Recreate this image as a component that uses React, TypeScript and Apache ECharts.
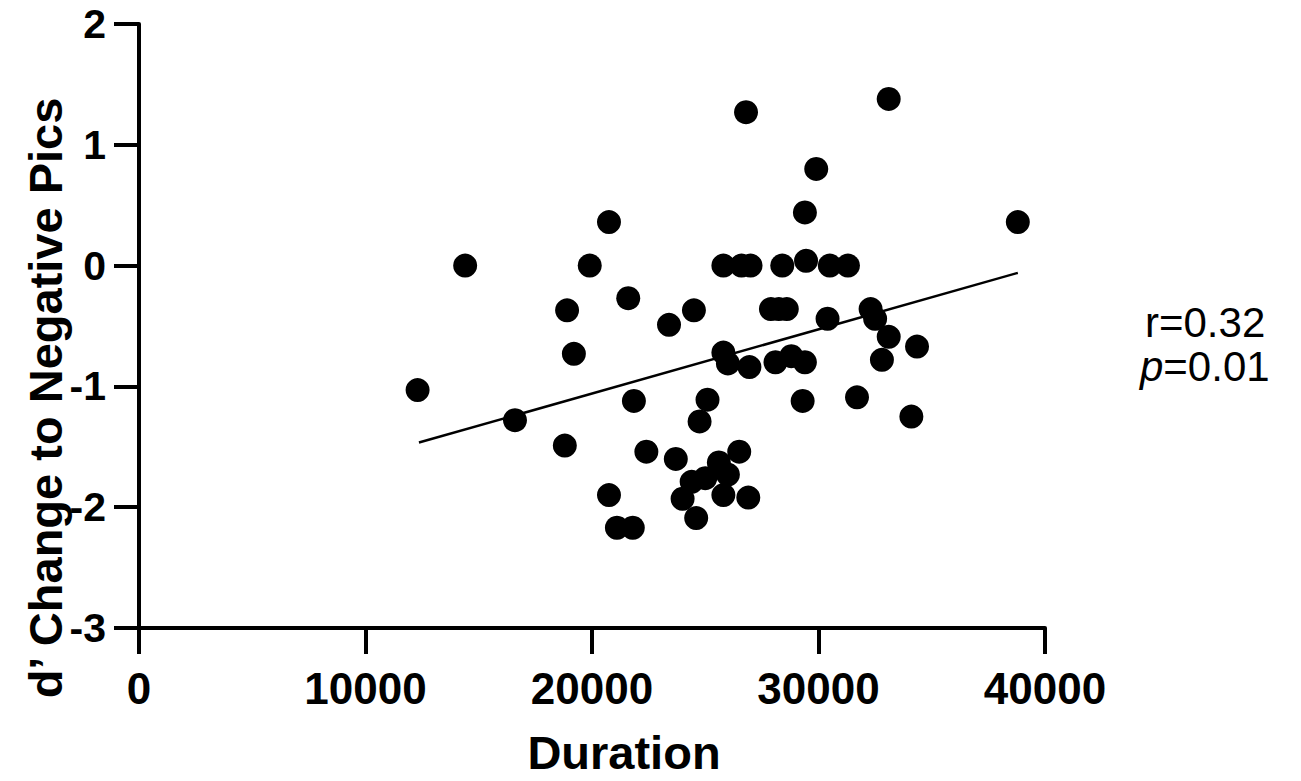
import React, { useEffect, useRef } from "react";
import * as echarts from "echarts";

const durations = [
  12300, 14400, 16600, 18800, 18900, 19200, 19900, 20750, 20750, 21100,
  21800, 21600, 21850, 22400, 23400, 23700, 24000, 24400, 24500, 24600,
  24750, 25000, 25100, 25600, 25800, 26000, 26500, 26900, 25800, 25800,
  26000, 26600, 27000, 26800, 26950, 27900, 28250, 28600, 28100, 28400,
  28800, 29400, 29300, 29400, 29450, 29900, 30400, 30500, 31300, 31700,
  32300, 32500, 32800, 33100, 33100, 34100, 34350, 38800,
];
const dprimeChange = [
  -1.03, 0, -1.28, -1.49, -0.37, -0.73, 0, 0.36, -1.9, -2.17,
  -2.17, -0.27, -1.12, -1.54, -0.49, -1.6, -1.93, -1.79, -0.37, -2.09,
  -1.29, -1.76, -1.11, -1.63, -1.9, -1.73, -1.54, -1.92, 0, -0.72,
  -0.81, 0, 0, 1.27, -0.84, -0.36, -0.36, -0.36, -0.8, 0,
  -0.75, -0.8, -1.12, 0.44, 0.04, 0.8, -0.44, 0, 0, -1.09,
  -0.36, -0.44, -0.78, -0.59, 1.38, -1.25, -0.67, 0.36,
];
const fitX = [12360, 38800];
const fitY = [-1.465, -0.06];
const xTicks = [0, 10000, 20000, 30000, 40000];
const yTicks = [-3, -2, -1, 0, 1, 2];
const xTitle = "Duration";
const yTitle = "d\u2019 Change to Negative Pics";
const rText = "r=0.32";
const pText = "0.01";

export default function App() {
  const ref = useRef<HTMLDivElement>(null);
  useEffect(() => {
    document.body.style.margin = "0";
    if (!ref.current) return;
    const chart = echarts.init(ref.current, null, { renderer: "svg" });
    const font = "'Liberation Sans', Arial, sans-serif";
    chart.setOption({
      animation: false,
      backgroundColor: "#ffffff",
      grid: { left: 139, right: 256, top: 24, bottom: 153, containLabel: false },
      xAxis: {
        type: "value",
        min: xTicks[0],
        max: xTicks[xTicks.length - 1],
        interval: 10000,
        splitLine: { show: false },
        axisLine: { show: true, onZero: false, lineStyle: { color: "#000", width: 4 } },
        axisTick: { show: true, length: 26, lineStyle: { color: "#000", width: 4 } },
        axisLabel: {
          color: "#000",
          fontFamily: font,
          fontWeight: "bold",
          fontSize: 44,
          margin: 38,
          formatter: (v: number) => String(v),
        },
      },
      yAxis: {
        type: "value",
        min: yTicks[0],
        max: yTicks[yTicks.length - 1],
        interval: 1,
        splitLine: { show: false },
        axisLine: { show: true, onZero: false, lineStyle: { color: "#000", width: 4 } },
        axisTick: { show: true, length: 25, lineStyle: { color: "#000", width: 4 } },
        axisLabel: {
          color: "#000",
          fontFamily: font,
          fontWeight: "bold",
          fontSize: 41,
          margin: 33,
          formatter: (v: number) => String(v),
        },
      },
      graphic: [
        {
          type: "text",
          x: 624,
          y: 752,
          style: {
            text: xTitle,
            font: `bold 47px ${font}`,
            fill: "#000",
            textAlign: "center",
            textVerticalAlign: "middle",
          },
        },
        {
          type: "text",
          x: 45,
          y: 398,
          rotation: Math.PI / 2,
          style: {
            text: yTitle,
            font: `bold 47px ${font}`,
            fill: "#000",
            textAlign: "center",
            textVerticalAlign: "middle",
          },
        },
        {
          type: "text",
          x: 1145,
          y: 322,
          style: {
            text: rText,
            font: `42px ${font}`,
            fill: "#000",
            textAlign: "left",
            textVerticalAlign: "middle",
          },
        },
        {
          type: "text",
          x: 1140,
          y: 366,
          style: {
            text: "{i|p}=" + pText,
            font: `42px ${font}`,
            fill: "#000",
            textAlign: "left",
            textVerticalAlign: "middle",
            rich: {
              i: { fontStyle: "italic", fontSize: 42, fontFamily: font, fill: "#000" },
            },
          },
        },
      ],
      series: [
        {
          type: "scatter",
          data: durations.map((d, i) => [d, dprimeChange[i]]),
          symbol: "circle",
          symbolSize: 24,
          itemStyle: { color: "#000", opacity: 1 },
          z: 3,
        },
        {
          type: "line",
          data: fitX.map((x, i) => [x, fitY[i]]),
          showSymbol: false,
          symbol: "none",
          lineStyle: { color: "#000", width: 2.5 },
          z: 2,
        },
      ],
    });
    return () => chart.dispose();
  }, []);
  return <div ref={ref} style={{ width: 1301, height: 781 }} />;
}
